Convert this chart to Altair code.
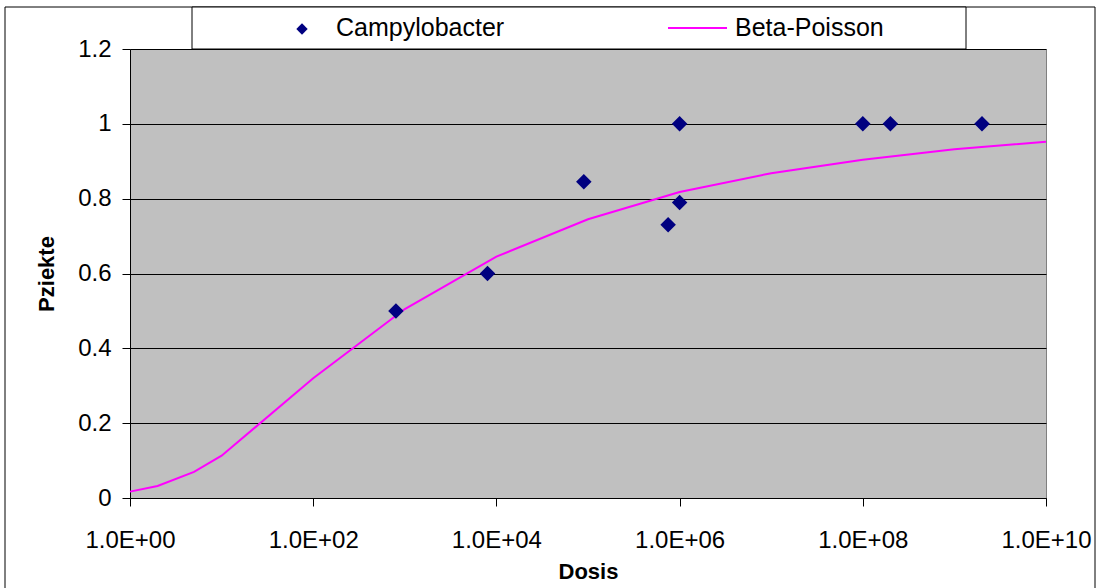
import altair as alt
import pandas as pd

# Observed data (Campylobacter)
obs_dose = [800, 8000, 90000, 750000, 1e6, 1e6, 1e8, 2e8, 2e9]
obs_p = [0.5, 0.6, 0.845, 0.73, 0.79, 1.0, 1.0, 1.0, 1.0]

# Beta-Poisson fitted curve
fit_dose = [1, 2, 5, 10, 100, 1e3, 1e4, 1e5, 1e6, 1e7, 1e8, 1e9, 1e10]
fit_p = [0.017, 0.032, 0.07, 0.113, 0.32, 0.505, 0.645, 0.745, 0.818, 0.868, 0.904, 0.932, 0.952]

x_ticks = [1, 1e2, 1e4, 1e6, 1e8, 1e10]
y_ticks = [0, 0.2, 0.4, 0.6, 0.8, 1.0, 1.2]

obs = pd.DataFrame({"dose": obs_dose, "p": obs_p})
fit = pd.DataFrame({"dose": fit_dose, "p": fit_p})
dummy = pd.DataFrame({"a": [0]})

FONT = "Liberation Sans"
W, H = 916, 449

xscale = alt.Scale(type="log", domain=[1, 1e10], nice=False)
yscale = alt.Scale(domain=[0, 1.2], nice=False)

xaxis = alt.Axis(
    values=x_ticks,
    labelExpr="'1.0E+' + (round(log(datum.value)/LN10) < 10 ? '0' : '') + round(log(datum.value)/LN10)",
    title="Dosis", grid=False, tickSize=8, tickColor="black", domainColor="black",
    labelFontSize=24, labelFont=FONT, labelColor="black", labelPadding=22,
    titleFontSize=22, titleFont=FONT, titleFontWeight="bold", titleColor="black", titlePadding=9,
    labelFlush=False, labelOverlap=False,
)
yaxis = alt.Axis(
    values=y_ticks, title="Pziekte", grid=True, gridColor="black", gridOpacity=1, gridWidth=1,
    tickSize=8, tickColor="black", domainColor="black",
    labelFontSize=24, labelFont=FONT, labelColor="black", labelPadding=11,
    titleFontSize=22, titleFont=FONT, titleFontWeight="bold", titleColor="black", titlePadding=19,
    labelExpr="format(datum.value, '.1~f')",
)

frame = alt.Chart(dummy).mark_rect(fill=None, stroke="black", strokeWidth=1, clip=False).encode(
    x=alt.value(-125), x2=alt.value(965), y=alt.value(-42), y2=alt.value(560)
)

legend_box = alt.Chart(dummy).mark_rect(fill="white", stroke="black", strokeWidth=1, clip=False).encode(
    x=alt.value(62), x2=alt.value(836), y=alt.value(-42), y2=alt.value(0)
)
legend_diamond = alt.Chart(dummy).mark_point(shape="diamond", filled=True, color="#000080", size=130, opacity=1).encode(
    x=alt.value(172), y=alt.value(-20)
)
legend_line = alt.Chart(dummy).mark_rule(color="#FF00FF", strokeWidth=2).encode(
    x=alt.value(538), x2=alt.value(597), y=alt.value(-21)
)
legend_t1 = alt.Chart(dummy).mark_text(text="Campylobacter", align="left", baseline="middle",
                                       font=FONT, fontSize=25, color="black").encode(
    x=alt.value(206), y=alt.value(-21)
)
legend_t2 = alt.Chart(dummy).mark_text(text="Beta-Poisson", align="left", baseline="middle",
                                       font=FONT, fontSize=25, color="black").encode(
    x=alt.value(605), y=alt.value(-21)
)

line = alt.Chart(fit).mark_line(color="#FF00FF", strokeWidth=2).encode(
    x=alt.X("dose:Q", scale=xscale, axis=xaxis),
    y=alt.Y("p:Q", scale=yscale, axis=yaxis),
)
points = alt.Chart(obs).mark_point(shape="diamond", filled=True, color="#000080", size=240, opacity=1).encode(
    x=alt.X("dose:Q", scale=xscale),
    y=alt.Y("p:Q", scale=yscale),
)

chart = alt.layer(
    frame, line, points, legend_box, legend_diamond, legend_line, legend_t1, legend_t2
).properties(
    width=W, height=H,
    autosize=alt.AutoSizeParams(type="none"),
    padding={"left": 130, "top": 49, "right": 52, "bottom": 90},
    background="white",
).configure_view(
    fill="#C0C0C0", stroke="#808080", strokeWidth=1
)

chart.save("out.html", embed_options={"renderer": "svg", "actions": False})
